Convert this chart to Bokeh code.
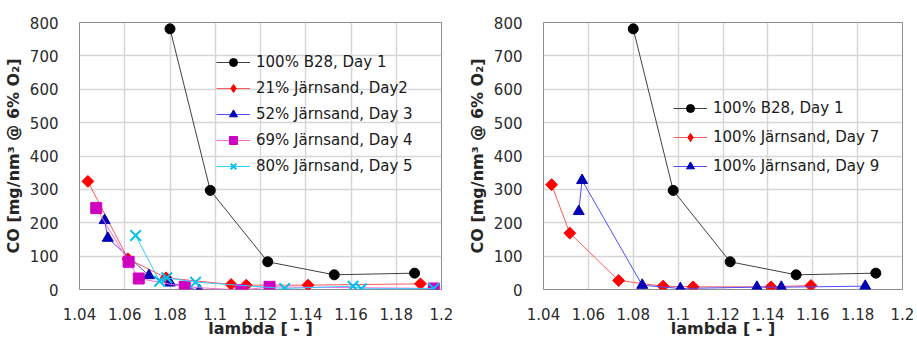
import math
from bokeh.plotting import figure
from bokeh.layouts import row
from bokeh.models import FixedTicker, Legend, LegendItem, Range1d
from bokeh.embed import file_html
from bokeh.resources import INLINE

# ---------------- data ----------------
x_ticks = [1.04, 1.06, 1.08, 1.10, 1.12, 1.14, 1.16, 1.18, 1.20]
x_tick_labels = ["1.04", "1.06", "1.08", "1.1", "1.12", "1.14", "1.16", "1.18", "1.2"]
y_ticks = [0, 100, 200, 300, 400, 500, 600, 700, 800]

b28_x = [1.0800, 1.0978, 1.1232, 1.1526, 1.1881]
b28_y = [781, 297, 83, 44, 49]

d2_x = [1.0437, 1.0614, 1.0783, 1.1070, 1.1137, 1.1410, 1.1907]
d2_y = [324, 92, 35, 15, 13, 13, 17]

d3_x = [1.0511, 1.0525, 1.0707, 1.0800, 1.0930, 1.1970]
d3_y = [207, 154, 42, 20, -3, -3]

d4_x = [1.0474, 1.0617, 1.0662, 1.0865, 1.1115, 1.1240, 1.1966]
d4_y = [244, 83, 33, 8, -2, 8, 3]

d5_x = [1.0648, 1.0754, 1.0786, 1.0913, 1.1307, 1.1609, 1.1646, 1.1966]
d5_y = [162, 25, 35, 22, 3, 10, 2, 3]

d7_x = [1.0436, 1.0517, 1.0735, 1.0933, 1.1067, 1.1414, 1.1592]
d7_y = [314, 169, 27, 10, 8, 8, 12]

d9_x = [1.0557, 1.0572, 1.0840, 1.1010, 1.1351, 1.1460, 1.1834]
d9_y = [234, 327, 13, 3, 7, 7, 10]

left_labels = ["100% B28, Day 1", "21% Järnsand, Day2", "52% Järnsand, Day 3",
               "69% Järnsand, Day 4", "80% Järnsand, Day 5"]
right_labels = ["100% B28, Day 1", "100% Järnsand, Day 7", "100% Järnsand, Day 9"]

FONT = "DejaVu Sans"


def make_fig(width, min_left, min_right):
    p = figure(width=width, height=340, output_backend="svg", toolbar_location=None,
               x_range=Range1d(1.04, 1.2), y_range=Range1d(0, 800),
               min_border_left=min_left, min_border_right=min_right,
               min_border_top=22, min_border_bottom=50)
    p.xaxis.ticker = FixedTicker(ticks=x_ticks)
    p.xaxis.major_label_overrides = {t: l for t, l in zip(x_ticks, x_tick_labels)}
    p.yaxis.ticker = FixedTicker(ticks=y_ticks)
    for ax in (p.xaxis[0], p.yaxis[0]):
        ax.axis_line_color = None
        ax.major_tick_line_color = None
        ax.minor_tick_line_color = None
        ax.major_label_text_font = FONT
        ax.major_label_text_font_size = "15px"
        ax.major_label_text_color = "#2b2b2b"
        ax.axis_label_text_font = FONT
        ax.axis_label_text_font_size = "16px"
        ax.axis_label_text_font_style = "bold"
        ax.axis_label_text_color = "#262626"
    p.xaxis.major_label_standoff = 12
    p.xaxis.axis_label_standoff = -4
    p.yaxis.major_label_standoff = 15
    p.yaxis.axis_label_standoff = 4
    p.xaxis.axis_label = "lambda [ - ]"
    p.yaxis.axis_label = "CO [mg/nm³ @ 6% O₂]"
    p.grid.grid_line_color = "#d6d6d6"
    p.grid.grid_line_width = 1.5
    p.outline_line_color = "#8c8c8c"
    p.outline_line_width = 1
    p.background_fill_color = "white"
    p.border_fill_color = "white"
    return p


def add_series(p, xs, ys, line_color, marker, mcolor, size):
    r1 = p.line(xs, ys, line_color=line_color, line_width=1)
    if marker == "diamond":
        p.scatter(xs, ys, marker="square", angle=math.pi / 4, size=size * 0.7,
                  fill_color=mcolor, line_color=mcolor)
        # legend-only glyph (point lies outside the visible range)
        r2 = p.scatter([xs[0]], [-1000], marker="diamond", size=size + 1,
                       fill_color=mcolor, line_color=mcolor)
    else:
        r2 = p.scatter(xs, ys, marker=marker, size=size, fill_color=mcolor,
                       line_color=mcolor, line_width=1 if marker != "x" else 2)
    return [r1, r2]


def style_legend(p, items, loc, spacing):
    lg = Legend(items=items, location=loc, background_fill_alpha=0,
                border_line_alpha=0, padding=0, margin=0, spacing=spacing,
                glyph_width=34, glyph_height=20, label_height=20, label_standoff=6,
                label_text_font=FONT, label_text_font_size="15px",
                label_text_color="#1a1a1a")
    p.add_layout(lg, "center")


# ---------------- left ----------------
p1 = make_fig(464, 79, 23)
s = []
s.append(add_series(p1, b28_x, b28_y, "#404040", "circle", "black", 10))
s.append(add_series(p1, d2_x, d2_y, "#ff5a5a", "diamond", "#ff0000", 12))
s.append(add_series(p1, d3_x, d3_y, "#4d4dff", "triangle", "#0000b4", 11))
s.append(add_series(p1, d4_x, d4_y, "#ff66dd", "square", "#d000c0", 11))
s.append(add_series(p1, d5_x, d5_y, "#33ccff", "x", "#00c0f0", 15))
items1 = [LegendItem(label=l, renderers=r) for l, r in zip(left_labels, s)]
style_legend(p1, items1, (137, 113), 6)

# ---------------- right ----------------
p2 = make_fig(453, 79, 15)
s2 = []
s2.append(add_series(p2, b28_x, b28_y, "#404040", "circle", "black", 10))
s2.append(add_series(p2, d7_x, d7_y, "#ff5a5a", "diamond", "#ff0000", 12))
s2.append(add_series(p2, d9_x, d9_y, "#4d4dff", "triangle", "#0000b4", 11))
items2 = [LegendItem(label=l, renderers=r) for l, r in zip(right_labels, s2)]
style_legend(p2, items2, (130, 113), 9)

layout = row(p1, p2)
open("out.html", "w").write(file_html(layout, INLINE))
